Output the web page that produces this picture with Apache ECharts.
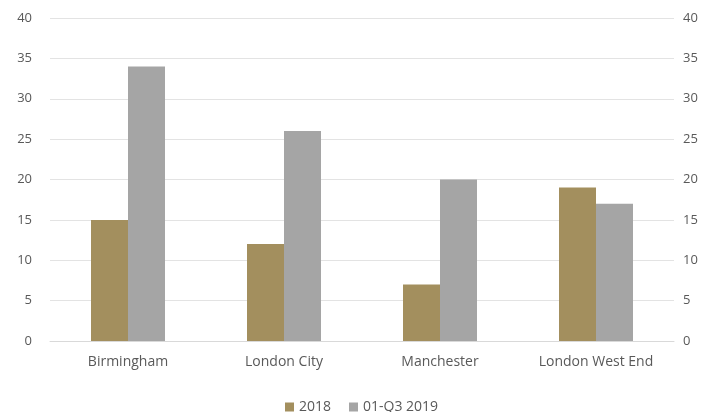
<!DOCTYPE html>
<html>
<head>
<meta charset="utf-8">
<script src="https://cdn.jsdelivr.net/npm/echarts@6/dist/echarts.min.js"></script>
<style>
  html, body { margin: 0; padding: 0; background: #fff; }
  #chart { width: 707px; height: 412px; }
</style>
</head>
<body>
<div id="chart"></div>
<script>
// 数据
var cities = ["Birmingham", "London City", "Manchester", "London West End"];
var values2018 = [15, 12, 7, 19];
var values2019 = [34, 26, 20, 17];
var seriesNames = ["2018", "01-Q3 2019"];

var chart = echarts.init(document.getElementById("chart"));

var labelStyle = {
  color: "#595959",
  fontFamily: "Open Sans",
  fontSize: 13,
};
var wideStyle = {
  color: "#595959",
  fontFamily: "Open Sans",
  fontSize: 14,
};

var option = {
  animation: false,
  grid: { left: 50, right: 33, top: 18, bottom: 71 },
  legend: {
    top: 395,
    left: 280,
    itemWidth: 9,
    itemHeight: 9,
    itemGap: 18,
    icon: "rect",
    textStyle: wideStyle,
    data: seriesNames,
  },
  xAxis: {
    type: "category",
    data: cities,
    axisTick: { show: false },
    axisLine: { lineStyle: { color: "#d9d9d9" } },
    axisLabel: Object.assign({ margin: 14 }, wideStyle),
  },
  yAxis: [
    {
      type: "value",
      min: 0,
      max: 40,
      interval: 5,
      axisLabel: Object.assign({ margin: 18 }, labelStyle),
      splitLine: { lineStyle: { color: "#e3e3e3" } },
    },
    {
      type: "value",
      min: 0,
      max: 40,
      interval: 5,
      position: "right",
      axisLabel: Object.assign({ margin: 9 }, labelStyle),
      splitLine: { show: false },
    },
  ],
  series: [
    {
      name: seriesNames[0],
      type: "bar",
      data: values2018,
      barWidth: 37,
      barGap: "0%",
      itemStyle: { color: "#A38F5E" },
    },
    {
      name: seriesNames[1],
      type: "bar",
      data: values2019,
      barWidth: 37,
      itemStyle: { color: "#A5A5A5" },
    },
  ],
};

chart.setOption(option);
</script>
</body>
</html>
